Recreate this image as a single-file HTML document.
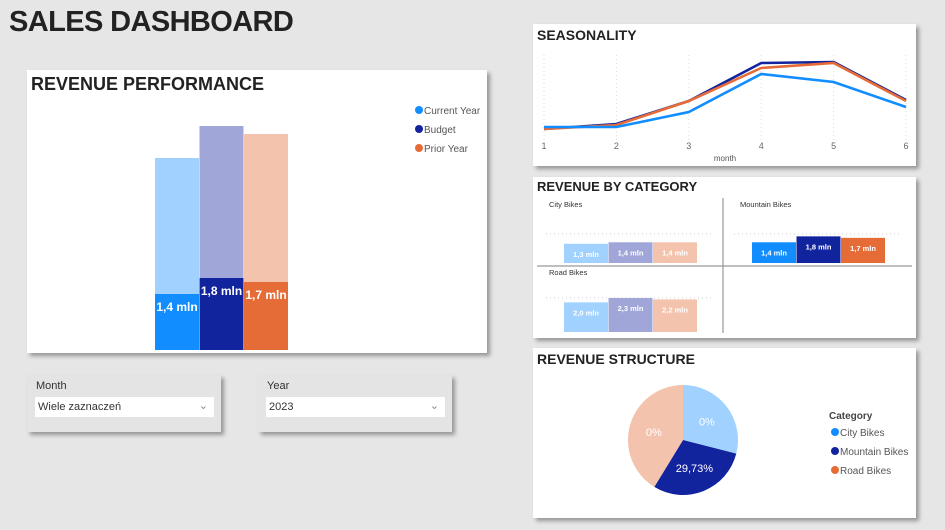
<!DOCTYPE html>
<html><head><meta charset="utf-8">
<style>
body{margin:0;width:945px;height:530px;background:#e6e6e6;font-family:"Liberation Sans",sans-serif;overflow:hidden;position:relative}
.p{position:absolute;background:#fff;box-shadow:3px 3px 4px rgba(0,0,0,.35)}
.t{position:absolute;font-weight:bold;color:#222}
.sl{position:absolute;background:#e4e4e4;box-shadow:3px 3px 4px rgba(0,0,0,.35)}
.dd{position:absolute;background:#fff;font-size:11px;color:#333;padding:4px 3px;box-sizing:border-box}
svg text{font-family:"Liberation Sans",sans-serif}
</style></head><body>
<div class="t" style="left:9px;top:6px;font-size:29px;letter-spacing:-0.6px">SALES DASHBOARD</div>

<div class="p" style="left:27px;top:70px;width:460px;height:283px"></div>
<div class="p" style="left:533px;top:24px;width:383px;height:142px"></div>
<div class="p" style="left:533px;top:177px;width:383px;height:161px"></div>
<div class="p" style="left:533px;top:348px;width:383px;height:170px"></div>

<div class="sl" style="left:27px;top:375px;width:194px;height:57px">
 <div style="position:absolute;left:9px;top:5px;font-size:11px;color:#333">Month</div>
 <div class="dd" style="left:8px;top:22px;width:179px;height:20px">Wiele zaznaczeń<span style="position:absolute;right:6px;top:2px;color:#888">&#8964;</span></div>
</div>
<div class="sl" style="left:258px;top:375px;width:194px;height:57px">
 <div style="position:absolute;left:9px;top:5px;font-size:11px;color:#333">Year</div>
 <div class="dd" style="left:8px;top:22px;width:179px;height:20px">2023<span style="position:absolute;right:6px;top:2px;color:#888">&#8964;</span></div>
</div>

<svg id="s" width="945" height="530" style="position:absolute;left:0;top:0">
<text x="31" y="90" font-size="18" font-weight="bold" fill="#222">REVENUE PERFORMANCE</text>
<text x="537" y="40" font-size="14" font-weight="bold" fill="#222">SEASONALITY</text>
<text x="537" y="191" font-size="13" font-weight="bold" fill="#222">REVENUE BY CATEGORY</text>
<text x="537" y="364" font-size="14" font-weight="bold" fill="#222">REVENUE STRUCTURE</text>
<g id="g"></g>
</svg>
<script>
const NS='http://www.w3.org/2000/svg';
const g=document.getElementById('g');
function mk(t,a,txt){const e=document.createElementNS(NS,t);for(const k in a)e.setAttribute(k,a[k]);if(txt!=null)e.textContent=txt;g.appendChild(e);return e;}

// ---- Revenue performance
const perfSeries=['Current Year','Budget','Prior Year'];
const perfValues=[1.4,1.8,1.7];
const perfTotals=[4.8,5.6,5.4];
const perfLabels=['1,4 mln','1,8 mln','1,7 mln'];
const darkC=['#118dff','#12239e','#e66c37'],lightC=['#a0d1ff','#a0a7d8','#f4c3ad'];
const pY=v=>350-v*40;
perfValues.forEach((v,i)=>{
 const x=155+i*44.5;
 let e=mk('rect',{x:x,y:pY(perfTotals[i]),width:44,height:350-pY(perfTotals[i]),fill:lightC[i]});
 
 e=mk('rect',{x:x,y:pY(v),width:44,height:350-pY(v),fill:darkC[i]});
 
 e=mk('text',{x:x+22,y:pY(v)+17,'text-anchor':'middle','font-size':12,'font-weight':'bold',fill:'#fff'},perfLabels[i]);
 
});
perfSeries.forEach((s,i)=>{
 let e=mk('circle',{cx:419,cy:110+i*19,r:4,fill:darkC[i]});
 
 e=mk('text',{x:424,y:114+i*19,'font-size':10,fill:'#555'},s);
 
});

// ---- Seasonality
const months=[1,2,3,4,5,6];
const cyVals=[80,80,230,610,530,280];
const budVals=[60,110,340,720,730,350];
const pyVals=[60,100,340,670,720,340];
const sx=m=>544+(m-1)*72.4, sy=v=>135-v*0.1;
months.forEach(m=>{
 let e=mk('line',{x1:sx(m),x2:sx(m),y1:55,y2:140,stroke:'#ddd','stroke-dasharray':'1,3'});
 
 e=mk('text',{x:sx(m),y:149,'text-anchor':'middle','font-size':9,fill:'#666'},m);
 
});
let ax=mk('text',{x:725,y:161,'text-anchor':'middle','font-size':8,fill:'#555'},'month');

[[budVals,'#12239e','line-budget'],[pyVals,'#e66c37','line-prior-year'],[cyVals,'#118dff','line-current-year']].forEach(([vals,c,n])=>{
 const e=mk('polyline',{points:vals.map((v,i)=>sx(months[i])+','+sy(v)).join(' '),fill:'none',stroke:c,'stroke-width':2.6});
 
});

// ---- Revenue by category
const cats=['City Bikes','Mountain Bikes','Road Bikes'];
const catVals=[[1.3,1.4,1.4],[1.4,1.8,1.7],[2.0,2.3,2.2]];
const catLabels=[['1,3 mln','1,4 mln','1,4 mln'],['1,4 mln','1,8 mln','1,7 mln'],['2,0 mln','2,3 mln','2,2 mln']];
const cell=[[564,263,false],[752,263,true],[564,332,false]];
let d=mk('line',{x1:723,x2:723,y1:198,y2:333,stroke:'#999','stroke-width':1.2});
d=mk('line',{x1:537,x2:912,y1:266,y2:266,stroke:'#999','stroke-width':1.2});
cats.forEach((c,ci)=>{
 const [x0,base,sel]=cell[ci];
 let e=mk('text',{x:x0-15+(ci==1?3:0),y:base-(ci==2?57:56),'font-size':7.5,fill:'#333'},c);
 
 e=mk('line',{x1:x0-18,x2:x0+148,y1:base-29-(ci==2?5:0),y2:base-29-(ci==2?5:0),stroke:'#ccc','stroke-dasharray':'1,3'});
 
 catVals[ci].forEach((v,i)=>{
  const h=v*14.8;
  e=mk('rect',{x:x0+i*44.5,y:base-h,width:44,height:h,fill:sel?darkC[i]:lightC[i]});
  
  e=mk('text',{x:x0+i*44.5+22,y:base-h+13,'text-anchor':'middle','font-size':7.5,'font-weight':'bold',fill:'#fff'},catLabels[ci][i]);
  
 });
});

// ---- Pie
const pieCats=['City Bikes','Mountain Bikes','Road Bikes'];
const pieVals=[0.29,0.2973,0.4127];
const pieLabels=['0%','29,73%','0%'];
const pieC=['#a0d1ff','#12239e','#f4c3ad'];
const cx=683,cy=440,r=55;
let a0=0;const tot=pieVals.reduce((a,b)=>a+b,0);
pieVals.forEach((v,i)=>{
 const a1=a0+v/tot*2*Math.PI;
 const p=a=>[cx+r*Math.sin(a),cy-r*Math.cos(a)];
 const [x1,y1]=p(a0),[x2,y2]=p(a1);
 let e=mk('path',{d:`M${cx},${cy}L${x1},${y1}A${r},${r} 0 ${a1-a0>Math.PI?1:0} 1 ${x2},${y2}Z`,fill:pieC[i]});
 
 const am=(a0+a1)/2;
 e=mk('text',{x:cx+r*0.55*Math.sin(am),y:cy-r*0.55*Math.cos(am)+4,'text-anchor':'middle','font-size':11,fill:'#fff'},pieLabels[i]);
 
 a0=a1;
});
let lt=mk('text',{x:829,y:419,'font-size':10,'font-weight':'bold',fill:'#444'},'Category');

pieCats.forEach((c,i)=>{
 let e=mk('circle',{cx:835,cy:432+i*19,r:4,fill:darkC[i]});
 
 e=mk('text',{x:840,y:436+i*19,'font-size':10,fill:'#555'},c);
 
});
</script>
</body></html>
